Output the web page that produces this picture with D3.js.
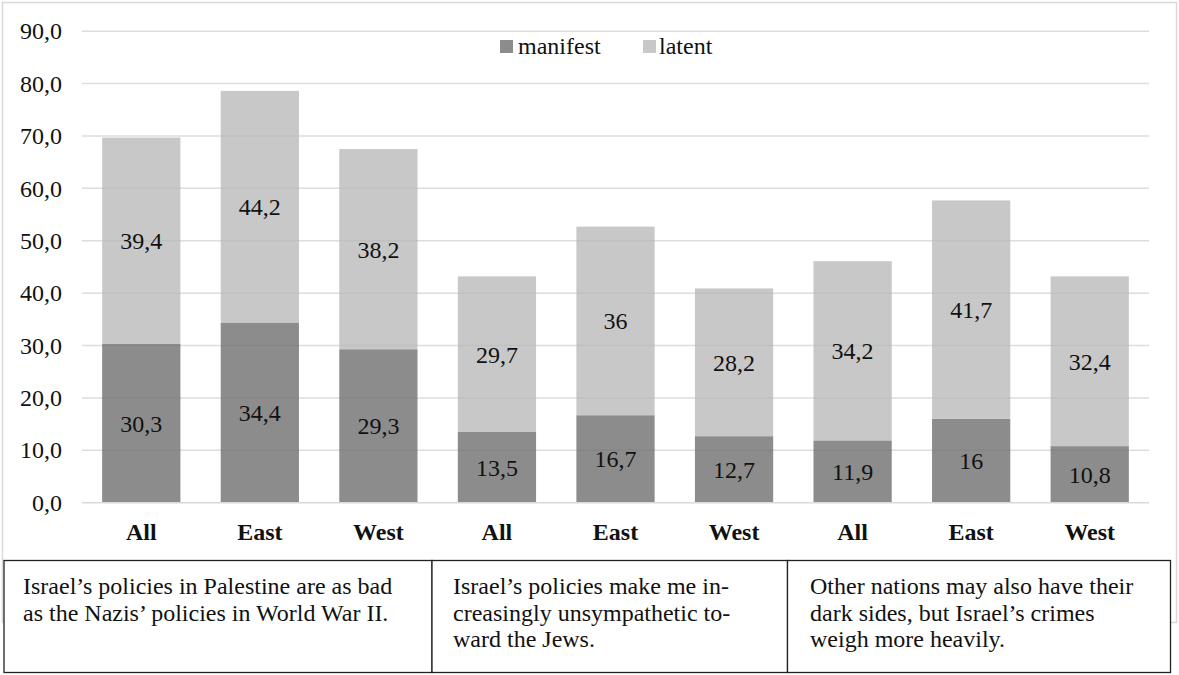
<!DOCTYPE html>
<html>
<head>
<meta charset="utf-8">
<script src="https://cdn.jsdelivr.net/npm/d3@7/dist/d3.min.js"></script>
<style>
  html, body { margin: 0; padding: 0; background: #fff; }
  svg { display: block; }
  svg text { font-family: "Liberation Serif", "Times New Roman", serif; }
</style>
</head>
<body>
<svg id="chart" width="1179" height="675"></svg>
<script>
// Category labels along the x axis (three regions for each of three statements)
const categories = ["All", "East", "West", "All", "East", "West", "All", "East", "West"];
// Share of respondents agreeing, per category
const manifest = [30.3, 34.4, 29.3, 13.5, 16.7, 12.7, 11.9, 16, 10.8];
const latent   = [39.4, 44.2, 38.2, 29.7, 36, 28.2, 34.2, 41.7, 32.4];
const seriesNames = ["manifest", "latent"];
const yTicks = [0, 10, 20, 30, 40, 50, 60, 70, 80, 90];
// Statement text shown beneath each group of three bars
const statements = [
  ["Israel\u2019s policies in Palestine are as bad", "as the Nazis\u2019 policies in World War II."],
  ["Israel\u2019s policies make me in-", "creasingly unsympathetic to-", "ward the Jews."],
  ["Other nations may also have their", "dark sides, but Israel\u2019s crimes", "weigh more heavily."]
];

const colors = { manifest: "#8c8c8c", latent: "#c8c8c8" };
const textColor = "#111";
const comma = s => String(s).replace(".", ",");

const svg = d3.select("#chart");

// outer chart frame
svg.append("rect")
  .attr("x", 2.5).attr("y", 2.5).attr("width", 1174).attr("height", 620)
  .attr("fill", "#fff").attr("stroke", "#d9d9d9").attr("stroke-width", 1.5);

const plot = { left: 82, right: 1149, top: 31.2, bottom: 502.7 };

const x = d3.scaleBand()
  .domain(d3.range(categories.length))
  .range([plot.left, plot.right])
  .paddingInner(0.34).paddingOuter(0.17);

const y = d3.scaleLinear().domain([0, 90]).range([plot.bottom, plot.top]);

const rows = categories.map((c, i) => ({ i, cat: c, manifest: manifest[i], latent: latent[i] }));
const stacked = d3.stack().keys(seriesNames)(rows);

// horizontal gridlines
svg.append("g").selectAll("line").data(yTicks.filter(t => t > 0)).join("line")
  .attr("x1", plot.left).attr("x2", plot.right)
  .attr("y1", d => y(d)).attr("y2", d => y(d))
  .attr("stroke", "#e6e6e6").attr("stroke-width", 1.5);

// stacked bars
const barG = svg.append("g");
stacked.forEach(layer => {
  barG.append("g").selectAll("rect").data(layer).join("rect")
    .attr("x", (d, j) => x(j))
    .attr("width", x.bandwidth())
    .attr("y", d => y(d[1]))
    .attr("height", d => y(d[0]) - y(d[1]))
    .attr("fill", colors[layer.key]);
});

// faint gridlines showing through the bars
svg.append("g").selectAll("line").data(yTicks.filter(t => t > 0)).join("line")
  .attr("x1", plot.left).attr("x2", plot.right)
  .attr("y1", d => y(d)).attr("y2", d => y(d))
  .attr("stroke", "#000").attr("stroke-opacity", 0.04).attr("stroke-width", 1.5);

// baseline
svg.append("line")
  .attr("x1", plot.left).attr("x2", plot.right)
  .attr("y1", y(0)).attr("y2", y(0))
  .attr("stroke", "#d9d9d9").attr("stroke-width", 1.5);

// value labels centred in each segment
stacked.forEach(layer => {
  svg.append("g").selectAll("text").data(layer).join("text")
    .attr("x", (d, j) => x(j) + x.bandwidth() / 2)
    .attr("y", d => y((d[0] + d[1]) / 2))
    .attr("dy", "0.35em")
    .attr("text-anchor", "middle")
    .attr("font-size", 24)
    .attr("fill", textColor)
    .text(d => comma(d.data[layer.key]));
});

// y axis
const yAxis = d3.axisLeft(y).tickValues(yTicks)
  .tickFormat(d => comma(d3.format(".1f")(d)))
  .tickSize(0).tickPadding(20);
const yG = svg.append("g").attr("transform", `translate(${plot.left},0)`).call(yAxis);
yG.attr("font-family", null);
yG.select(".domain").remove();
yG.selectAll("text").attr("font-size", 24).attr("fill", textColor);

// x axis category labels
const xAxis = d3.axisBottom(x).tickFormat(i => categories[i]).tickSize(0).tickPadding(20);
const xG = svg.append("g").attr("transform", `translate(0,${plot.bottom})`).call(xAxis);
xG.attr("font-family", null);
xG.select(".domain").remove();
xG.selectAll("text").attr("font-size", 24).attr("font-weight", "bold").attr("fill", textColor);

// legend
const legend = svg.append("g");
const legendPos = [{ sx: 500, tx: 518 }, { sx: 643, tx: 659 }];
seriesNames.forEach((name, k) => {
  legend.append("rect")
    .attr("x", legendPos[k].sx).attr("y", 40).attr("width", 13).attr("height", 13)
    .attr("fill", colors[name]);
  legend.append("text")
    .attr("x", legendPos[k].tx).attr("y", 54)
    .attr("font-size", 24).attr("fill", textColor)
    .text(name);
});

// statement boxes below the chart
const boxes = [
  { x0: 4, x1: 432, tx: 23 },
  { x0: 432, x1: 787.5, tx: 453 },
  { x0: 787.5, x1: 1170.5, tx: 810 }
];
const boxG = svg.append("g");
boxes.forEach((b, k) => {
  boxG.append("rect")
    .attr("x", b.x0).attr("y", 560.5).attr("width", b.x1 - b.x0).attr("height", 112)
    .attr("fill", "#fff").attr("stroke", "#222").attr("stroke-width", 1.3);
  boxG.append("g").selectAll("text").data(statements[k]).join("text")
    .attr("x", b.tx)
    .attr("y", (d, i) => 594 + i * 26.5)
    .attr("font-size", 24)
    .attr("fill", textColor)
    .text(d => d);
});
</script>
</body>
</html>
